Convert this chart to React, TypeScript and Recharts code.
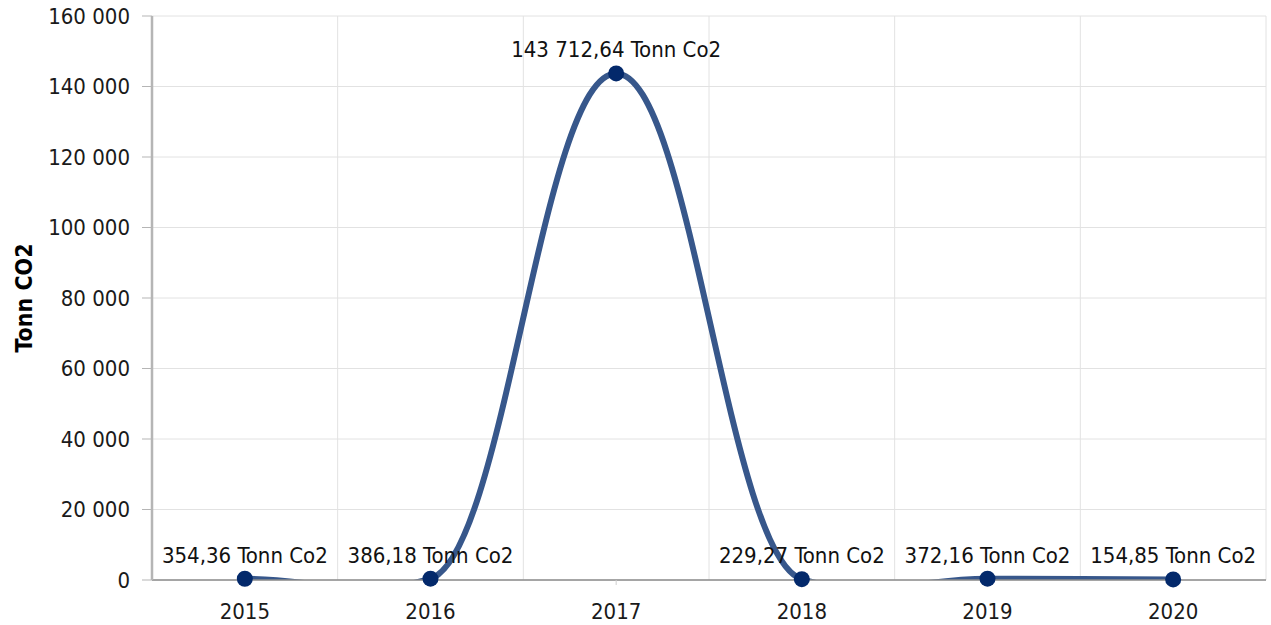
import { CartesianGrid, LabelList, Line, LineChart, XAxis, YAxis } from 'recharts';

const years = ['2015', '2016', '2017', '2018', '2019', '2020'];
const emissions = [354.36, 386.18, 143712.64, 229.27, 372.16, 154.85];
const yTicks = [0, 20000, 40000, 60000, 80000, 100000, 120000, 140000, 160000];
const unit = 'Tonn Co2';
const axisTitle = 'Tonn CO2';

const data = years.map((year, i) => ({ year, value: emissions[i] }));

const FONT = "'DejaVu Sans Condensed', 'DejaVu Sans', sans-serif";

const groupThousands = (s: string) => s.replace(/\B(?=(\d{3})+(?!\d))/g, ' ');
const formatTick = (v: number) => groupThousands(String(Math.round(v)));
const formatValue = (v: any) => {
  const [int, dec] = Number(v).toFixed(2).split('.');
  return `${groupThousands(int)},${dec} ${unit}`;
};

// smooth line: flat ends, damped tangents, long control arms
const TANGENT = 0.22;
const REACH = 0.4;
function softSpline(context: any) {
  let xs: number[] = [];
  let ys: number[] = [];
  return {
    areaStart() {},
    areaEnd() {},
    lineStart() {
      xs = [];
      ys = [];
    },
    point(x: number, y: number) {
      xs.push(+x);
      ys.push(+y);
    },
    lineEnd() {
      const n = xs.length;
      if (!n) return;
      const slope = (i: number) =>
        i === 0 || i === n - 1 ? 0 : (TANGENT * (ys[i + 1] - ys[i - 1])) / (xs[i + 1] - xs[i - 1]);
      context.moveTo(xs[0], ys[0]);
      for (let i = 1; i < n; i++) {
        const d = (xs[i] - xs[i - 1]) * REACH;
        context.bezierCurveTo(
          xs[i - 1] + d,
          ys[i - 1] + d * slope(i - 1),
          xs[i] - d,
          ys[i] - d * slope(i),
          xs[i],
          ys[i],
        );
      }
    },
  };
}

export default function App() {
  return (
    <div style={{ position: 'absolute', left: 0, top: 0, fontFamily: FONT }}>
      <LineChart width={1271} height={625} data={data} margin={{ top: 16, right: 5, bottom: 0, left: 0 }}>
        <CartesianGrid
          stroke="#e2e2e2"
          verticalCoordinatesGenerator={({ offset }: any) =>
            years.map((_, i) => offset.left + ((i + 1) * offset.width) / years.length)
          }
        />
        <XAxis
          dataKey="year"
          scale="band"
          height={45}
          tickSize={5}
          tickMargin={18}
          axisLine={{ stroke: '#8d8d8d', strokeWidth: 1.5 }}
          tickLine={{ stroke: '#cfcfcf' }}
          tick={{ fill: '#1a1a1a', fontSize: 22 }}
        />
        <YAxis
          width={152}
          domain={[0, 160000]}
          ticks={yTicks}
          allowDataOverflow
          tickFormatter={formatTick}
          tickSize={10}
          tickMargin={12}
          axisLine={{ stroke: '#b5b5b5', strokeWidth: 2.5 }}
          tickLine={{ stroke: '#b5b5b5' }}
          tick={{ fill: '#1a1a1a', fontSize: 22 }}
          label={{
            value: axisTitle,
            angle: -90,
            position: 'insideLeft',
            offset: 24,
            fontSize: 23,
            fontWeight: 700,
            fill: '#000',
            style: { textAnchor: 'middle' },
          }}
        />
        <Line
          type={softSpline as any}
          dataKey="value"
          stroke="#37578b"
          strokeWidth={6}
          dot={{ r: 8, fill: '#03296b', stroke: '#03296b', strokeWidth: 0, clipDot: false }}
          activeDot={false}
          isAnimationActive={false}
        >
          <LabelList dataKey="value" position="top" offset={16} formatter={formatValue} fontSize={22} fill="#111" />
        </Line>
      </LineChart>
    </div>
  );
}
